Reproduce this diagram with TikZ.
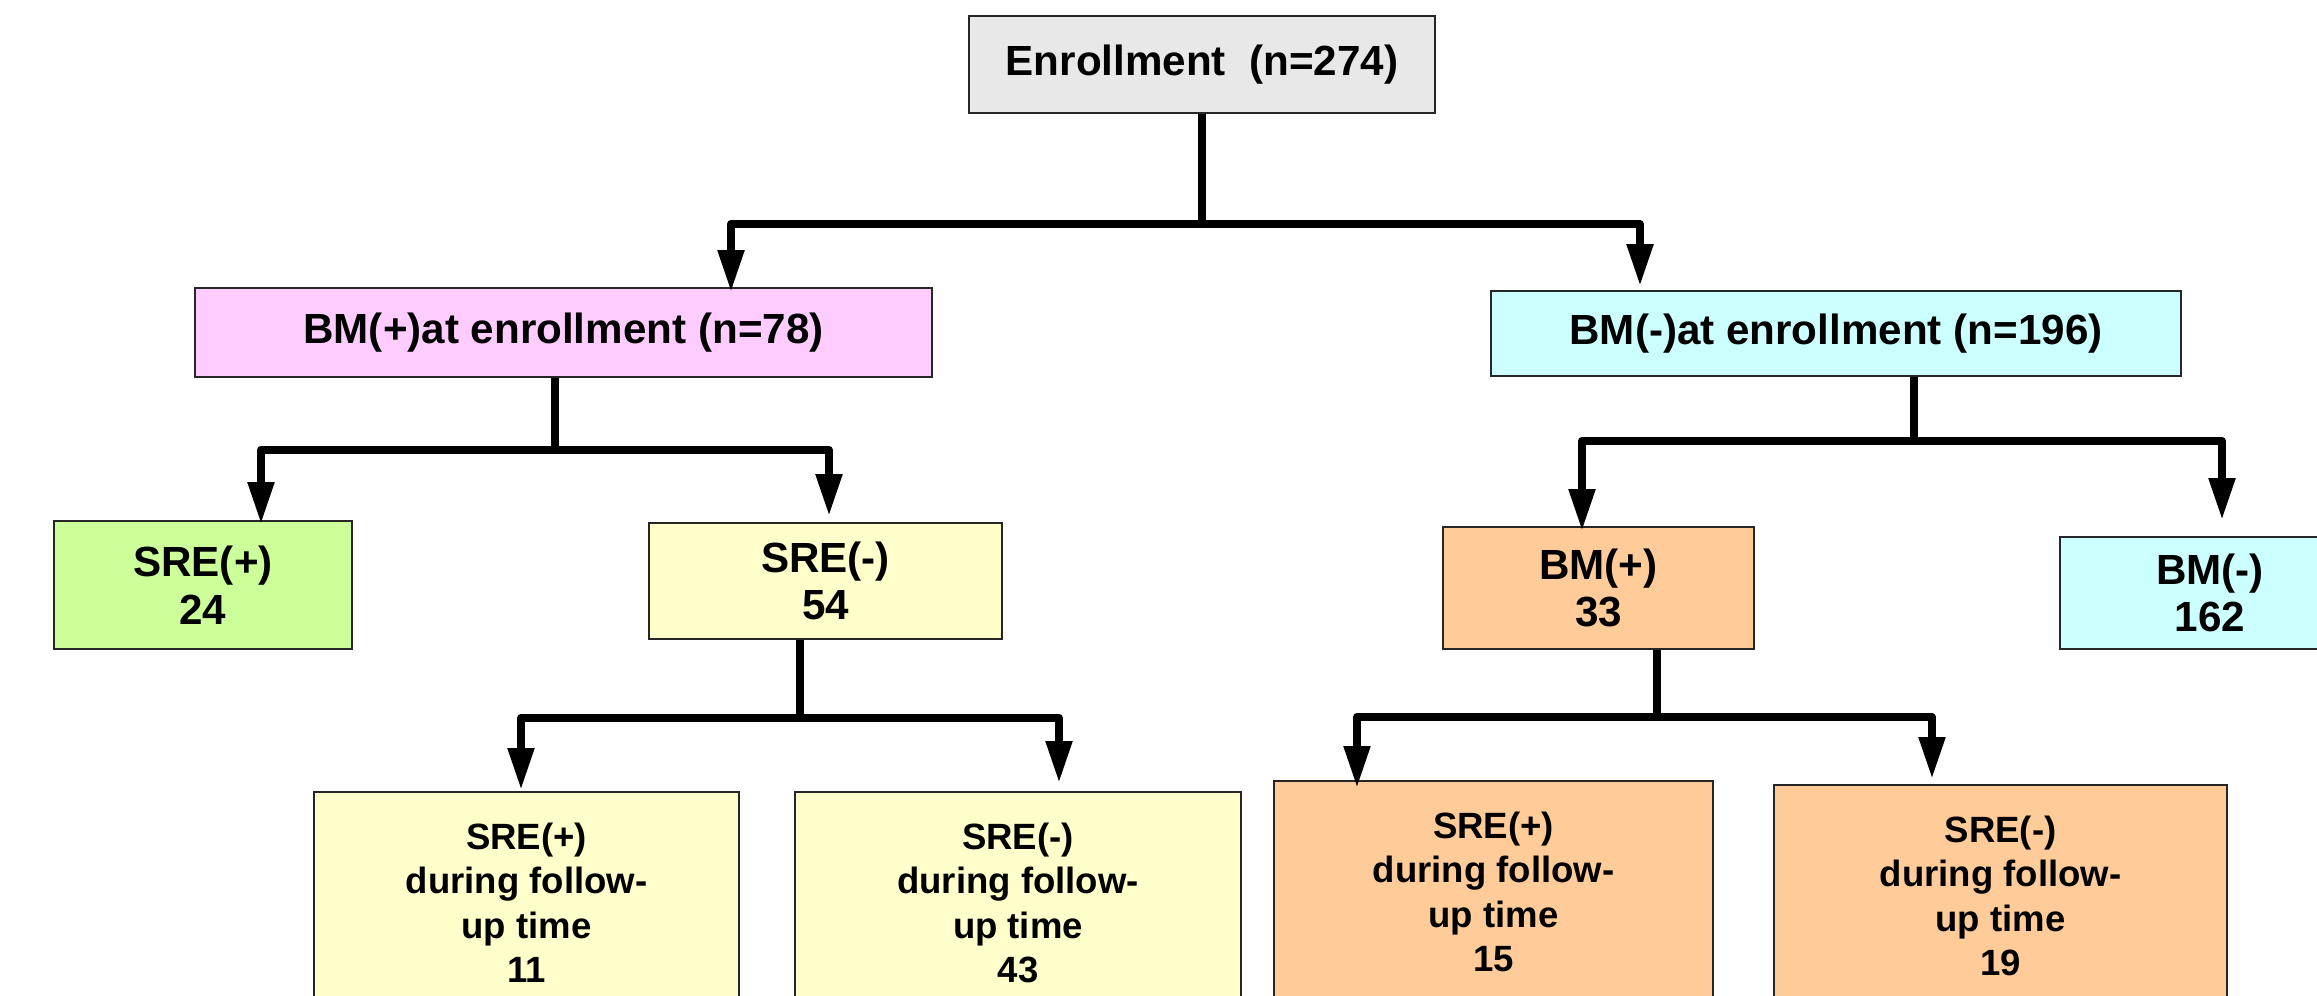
\documentclass[tikz,border=0pt]{standalone}
\usepackage{fontspec}
\setmainfont{Liberation Sans}
\definecolor{boxgray}{RGB}{232,232,232}
\definecolor{boxpink}{RGB}{255,204,255}
\definecolor{boxcyan}{RGB}{204,255,255}
\definecolor{boxgreen}{RGB}{204,255,153}
\definecolor{boxyellow}{RGB}{255,255,204}
\definecolor{boxorange}{RGB}{255,204,153}
\usetikzlibrary{arrows.meta,positioning}

\begin{document}
\begin{tikzpicture}[
  flowbox/.style={
    rectangle, draw=black!85, line width=0.5pt,
    inner sep=0pt, align=center,
    font=\fontsize{12}{13.5}\selectfont\bfseries
  },
  longbox/.style={
    flowbox, anchor=north, minimum height=2.22cm,
    font=\fontsize{10.4}{12.6}\selectfont\bfseries
  },
  conn/.style={-{Triangle[length=0.42cm,width=0.25cm]}, line width=2.3pt, line join=round}
]
\useasboundingbox (0,0) rectangle (23.17,-9.96);
\clip (0,0) rectangle (23.17,-9.96);

\node[flowbox, fill=boxgray, minimum width=4.66cm, minimum height=0.97cm] (enr) at (12.02,-0.645)
  {Enrollment\ \ (n=274)};

\node[flowbox, fill=boxpink, minimum width=7.37cm, minimum height=0.89cm] (bmpos) at (5.635,-3.325)
  {BM(+)at enrollment (n=78)};
\node[flowbox, fill=boxcyan, minimum width=6.90cm, minimum height=0.85cm] (bmneg) at (18.36,-3.335)
  {BM(-)at enrollment (n=196)};

\node[flowbox, fill=boxgreen, minimum width=2.98cm, minimum height=1.28cm] (srepos) at (2.03,-5.85)
  {SRE(+)\\24};
\node[flowbox, fill=boxyellow, minimum width=3.53cm, minimum height=1.16cm] (sreneg) at (8.255,-5.81)
  {SRE(-)\\54};
\node[flowbox, fill=boxorange, minimum width=3.11cm, minimum height=1.22cm] (bmpostwo) at (15.985,-5.88)
  {BM(+)\\33};
\node[flowbox, fill=boxcyan, minimum width=3.00cm, minimum height=1.12cm] (bmnegtwo) at (22.10,-5.93)
  {BM(-)\\162};

\node[longbox, fill=boxyellow, minimum width=4.25cm] (fupa) at (5.265,-7.91)
  {SRE(+)\\during follow-\\up time\\11};
\node[longbox, fill=boxyellow, minimum width=4.46cm] (fupb) at (10.18,-7.91)
  {SRE(-)\\during follow-\\up time\\43};
\node[longbox, fill=boxorange, minimum width=4.39cm] (fupc) at (14.935,-7.80)
  {SRE(+)\\during follow-\\up time\\15};
\node[longbox, fill=boxorange, minimum width=4.53cm] (fupd) at (20.005,-7.84)
  {SRE(-)\\during follow-\\up time\\19};

\draw[conn] (enr.south) -- ++(0,-1.10) -| ([xshift=1.675cm,yshift=-0.05cm]bmpos.north);
\draw[conn] (enr.south) -- ++(0,-1.10) -| ([xshift=-1.96cm,yshift=0.04cm]bmneg.north);

\draw[conn] ([xshift=-0.085cm]bmpos.south) -- ++(0,-0.72) -| ([xshift=0.58cm,yshift=-0.04cm]srepos.north);
\draw[conn] ([xshift=-0.085cm]bmpos.south) -- ++(0,-0.72) -| ([xshift=0.035cm,yshift=0.06cm]sreneg.north);

\draw[conn] ([xshift=0.78cm]bmneg.south) -- ++(0,-0.64) -| ([xshift=-0.165cm,yshift=-0.05cm]bmpostwo.north);
\draw[conn] ([xshift=0.78cm]bmneg.south) -- ++(0,-0.64) -| ([xshift=0.12cm,yshift=0.16cm]bmnegtwo.north);

\draw[conn] ([xshift=-0.255cm]sreneg.south) -- ++(0,-0.78) -| ([xshift=-0.055cm,yshift=0.01cm]fupa.north);
\draw[conn] ([xshift=-0.255cm]sreneg.south) -- ++(0,-0.78) -| ([xshift=0.41cm,yshift=0.08cm]fupb.north);

\draw[conn] ([xshift=0.585cm]bmpostwo.south) -- ++(0,-0.67) -| ([xshift=-1.365cm,yshift=-0.08cm]fupc.north);
\draw[conn] ([xshift=0.585cm]bmpostwo.south) -- ++(0,-0.67) -| ([xshift=-0.685cm,yshift=0.05cm]fupd.north);
\end{tikzpicture}
\end{document}
